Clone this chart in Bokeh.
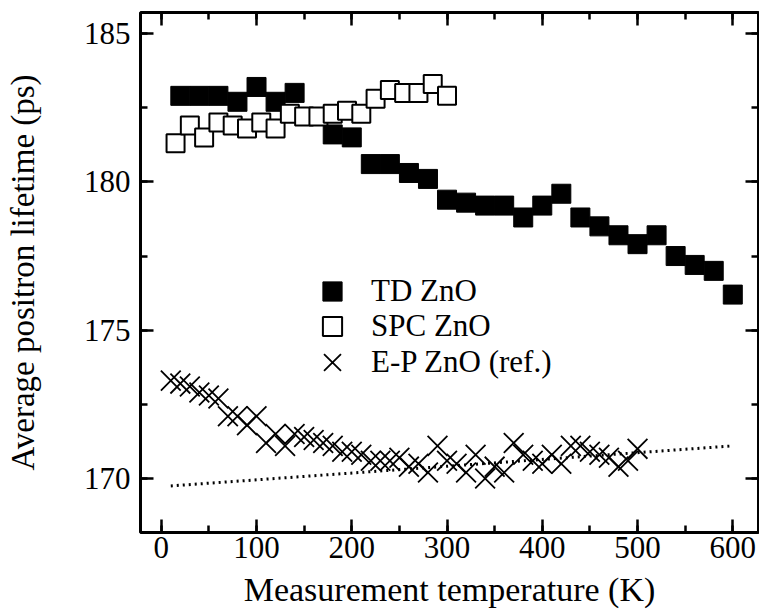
from bokeh.plotting import figure
from bokeh.models import LinearAxis, Range1d, Legend, LegendItem, SingleIntervalTicker
from bokeh.embed import file_html
from bokeh.resources import INLINE

# ---- data ----
td_T = [20, 40, 60, 80, 100, 120, 140, 180, 200, 220, 240, 260, 280, 300, 320,
        340, 360, 380, 400, 420, 440, 460, 480, 500, 520, 540, 560, 580, 600]
td_tau = [182.9, 182.9, 182.9, 182.7, 183.2, 182.7, 183.0, 181.6, 181.5, 180.6,
          180.6, 180.3, 180.1, 179.4, 179.3, 179.2, 179.2, 178.8, 179.2, 179.6,
          178.8, 178.5, 178.2, 177.9, 178.2, 177.5, 177.2, 177.0, 176.2]

spc_T = [15, 30, 45, 60, 75, 90, 105, 120, 135, 150, 165, 180, 195, 210, 225,
         240, 255, 270, 285, 300]
spc_tau = [181.3, 181.9, 181.5, 182.0, 181.9, 181.8, 182.0, 181.8, 182.3, 182.2,
           182.2, 182.3, 182.4, 182.3, 182.8, 183.1, 183.0, 183.0, 183.3, 182.9]

ep_T = [10, 20, 30, 40, 50, 60, 70, 80, 90, 100, 110, 120, 130, 140, 150, 160,
        170, 180, 190, 200, 210, 220, 230, 240, 250, 260, 270, 280, 290, 300,
        310, 320, 330, 340, 350, 360, 370, 380, 390, 400, 410, 420, 430, 440,
        450, 460, 470, 480, 490, 500]
ep_tau = [173.3, 173.2, 173.1, 172.9, 172.8, 172.7, 172.1, 172.1, 171.8, 172.1,
          171.2, 171.5, 171.1, 171.5, 171.4, 171.3, 171.2, 171.1, 170.9, 170.9,
          170.8, 170.6, 170.6, 170.6, 170.7, 170.4, 170.5, 170.2, 171.1, 170.6,
          170.5, 170.2, 170.8, 170.0, 170.4, 170.2, 171.2, 170.8, 170.6, 170.5,
          170.8, 170.5, 171.1, 171.1, 170.9, 170.8, 170.7, 170.4, 170.6, 171.0]

fit_T = [10, 600]
fit_tau = [169.75, 171.1]

x_label = "Measurement temperature (K)"
y_label = "Average positron lifetime (ps)"
labels = ["TD ZnO", "SPC ZnO", "E-P ZnO (ref.)"]

FONT = "Liberation Serif"

p = figure(width=759, height=612, output_backend="svg", toolbar_location=None,
           x_range=Range1d(-21.8, 627), y_range=Range1d(168.18, 185.71),
           min_border_left=140, min_border_right=1, min_border_top=12,
           min_border_bottom=80)
p.xgrid.visible = False
p.ygrid.visible = False
p.outline_line_color = "black"
p.outline_line_width = 3

xt = SingleIntervalTicker(interval=100, num_minor_ticks=2)
yt = SingleIntervalTicker(interval=5, num_minor_ticks=2)
p.xaxis[0].ticker = xt
p.yaxis[0].ticker = yt

def style(ax, show):
    ax.major_tick_in = 13
    ax.major_tick_out = 0
    ax.minor_tick_in = 7
    ax.minor_tick_out = 0
    ax.major_tick_line_width = 2.5
    ax.minor_tick_line_width = 2.5
    ax.major_tick_line_color = "black"
    ax.minor_tick_line_color = "black"
    ax.axis_line_color = None
    ax.major_label_text_font = FONT
    ax.axis_label_text_font = FONT
    ax.axis_label_text_font_style = "normal"
    ax.axis_label_text_color = "black"
    if show:
        ax.major_label_text_font_size = "31px"
        ax.major_label_text_color = "black"
    else:
        ax.major_label_text_font_size = "1px"
        ax.major_label_text_color = None
        ax.major_label_standoff = 0
        ax.axis_label_standoff = 0

style(p.xaxis[0], True)
style(p.yaxis[0], True)
p.xaxis[0].axis_label = x_label
p.yaxis[0].axis_label = y_label
p.xaxis[0].axis_label_text_font_size = "34px"
p.yaxis[0].axis_label_text_font_size = "33px"
p.xaxis[0].major_label_text_line_height = 1.0
p.xaxis[0].axis_label_text_line_height = 0.9
p.xaxis[0].major_label_standoff = 4
p.xaxis[0].axis_label_standoff = 10
p.yaxis[0].major_label_standoff = 10
p.yaxis[0].axis_label_standoff = 40

top = LinearAxis(ticker=xt)
style(top, False)
p.add_layout(top, "above")
right = LinearAxis(ticker=yt)
style(right, False)
p.add_layout(right, "right")

r_ep = p.scatter(ep_T, ep_tau, marker="x", size=28, line_color="black", line_width=1.8)
p.line(fit_T, fit_tau, line_dash="2 4", line_width=3, line_color="black")
r_td = p.scatter(td_T, td_tau, marker="square", size=19, fill_color="black", line_color="black", line_width=1)
r_spc = p.scatter(spc_T, spc_tau, marker="square", size=18, fill_color="white", line_color="black", line_width=2)

def make_legend(label, rend, loc, box, standoff):
    return Legend(items=[LegendItem(label=label, renderers=[rend])],
                  location=loc, padding=0, margin=0, spacing=0,
                  glyph_width=box, glyph_height=box, label_standoff=standoff,
                  border_line_color=None, background_fill_alpha=0,
                  label_text_font=FONT, label_text_font_size="31px",
                  label_text_color="black")

p.add_layout(make_legend(labels[0], r_td, (168, 217), 48, 15))
p.add_layout(make_legend(labels[1], r_spc, (168, 182), 48, 15))
p.add_layout(make_legend(labels[2], r_ep, (162, 140), 60, 9))

open("out.html", "w").write(file_html(p, INLINE))
